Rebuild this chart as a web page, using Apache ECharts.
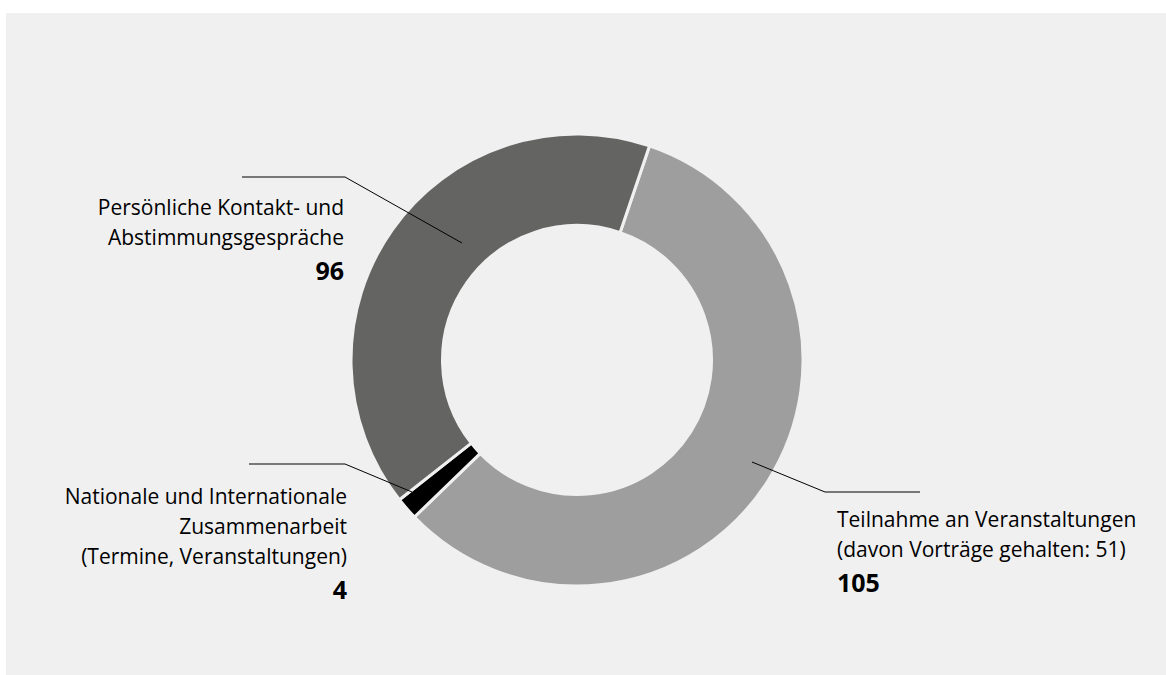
<!DOCTYPE html>
<html>
<head>
<meta charset="utf-8">
<script src="https://cdn.jsdelivr.net/npm/echarts@6/dist/echarts.min.js"></script>
<style>
html, body { margin: 0; padding: 0; background: #ffffff; }
#chart { width: 1166px; height: 675px; }
</style>
</head>
<body>
<div id="chart"></div>
<script>
// ---- data ----
const categories = [
  'Teilnahme an Veranstaltungen\n(davon Vorträge gehalten: 51)',
  'Nationale und Internationale\nZusammenarbeit\n(Termine, Veranstaltungen)',
  'Persönliche Kontakt- und\nAbstimmungsgespräche'
];
const values = [105, 4, 96];
// angular extent of each slice (degrees)
const arcDegrees = [207.3, 5.8, 146.9];

// ---- styling / layout ----
const colors = ['#9d9e9d', '#000000', '#646463'];
const bg = '#f0f0f0';
const FONT = '"Open Sans"';
const labelPlacement = [
  { x: 837, y: 504, align: 'left',  line: [[752, 462], [825, 492], [920, 492]] },
  { x: 347, y: 481, align: 'right', line: [[412, 492], [345, 464], [249, 464]] },
  { x: 344, y: 192, align: 'right', line: [[462, 243], [345, 177], [242, 177]] }
];

const chart = echarts.init(document.getElementById('chart'), null, { renderer: 'svg' });

chart.setOption({
  animation: false,
  backgroundColor: 'transparent',
  graphic: [{
    type: 'rect', z: -10, silent: true,
    shape: { x: 6, y: 13, width: 1160, height: 662 },
    style: { fill: bg }
  }].concat(labelPlacement.map(L => ({
    type: 'polyline', z: 100, silent: true,
    shape: { points: L.line },
    style: { stroke: '#000', lineWidth: 1, fill: null }
  }))),
  series: [{
    type: 'pie',
    center: [577, 360],
    radius: [134.5, 226],
    startAngle: 71.3,
    clockwise: true,
    avoidLabelOverlap: false,
    itemStyle: { borderColor: bg, borderWidth: 3 },
    label: {
      show: true,
      position: 'outside',
      formatter: p => '{n|' + p.name + '}\n{v|' + values[p.dataIndex] + '}',
      rich: {
        n: { fontFamily: FONT, fontSize: 21, lineHeight: 30, color: '#000' },
        v: { fontFamily: FONT, fontSize: 25, fontWeight: 'bold', lineHeight: 35, color: '#000' }
      }
    },
    labelLine: { show: false },
    labelLayout: params => {
      const L = labelPlacement[params.dataIndex];
      return { x: L.x, y: L.y, align: L.align, verticalAlign: 'top' };
    },
    data: categories.map((c, i) => ({
      name: c,
      value: arcDegrees[i],
      itemStyle: { color: colors[i] }
    }))
  }]
});
</script>
</body>
</html>
